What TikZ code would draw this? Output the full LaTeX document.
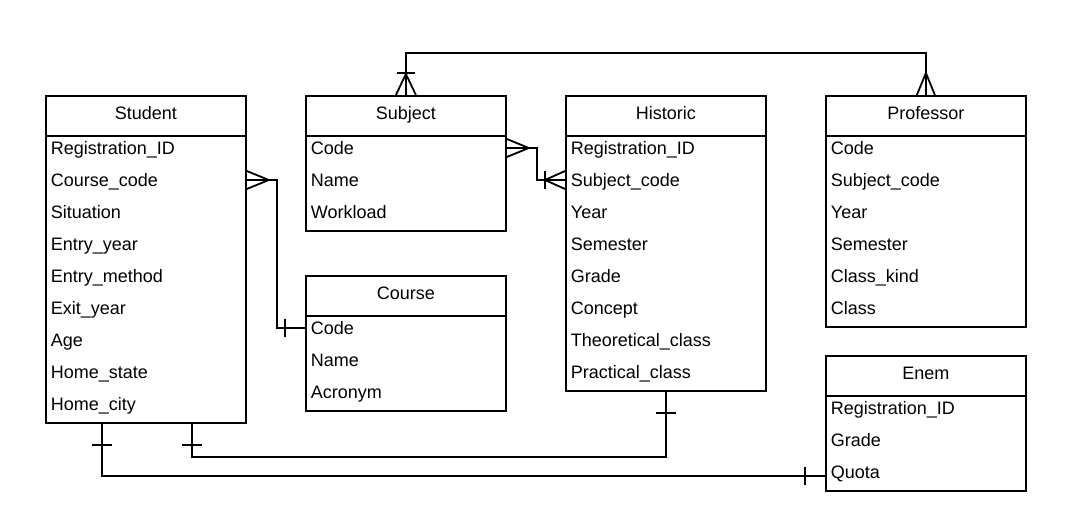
\documentclass[tikz,border=0pt]{standalone}
\usepackage{fontspec}
\setmainfont{Liberation Sans}
\usetikzlibrary{calc}

\begin{document}
\begin{tikzpicture}[x=1pt,y=-1pt,line width=1.8pt,
  head/.style={draw,minimum width=200pt,minimum height=40pt,inner sep=0pt,anchor=north west,text height=13pt,text depth=6pt,font=\fontsize{18}{21}\selectfont},
  body/.style={draw,minimum width=200pt,inner sep=0pt,anchor=north west},
  row/.style={anchor=west,inner sep=0pt,text height=13pt,text depth=0pt,font=\fontsize{18}{21}\selectfont}]
\useasboundingbox[fill=white] (0,0) rectangle (1065,530);

% Student
\node[head] (stu-h) at (45,95) {Student};
\node[body,minimum height=287pt] (stu) at (45,135) {};
\foreach \t [count=\i from 0] in {Registration\_ID,Course\_code,Situation,Entry\_year,Entry\_method,Exit\_year,Age,Home\_state,Home\_city}
  \node[row] (stu-\i) at (50,148+32*\i) {\t};

% Subject
\node[head] (sub-h) at (305,95) {Subject};
\node[body,minimum height=95pt] (sub) at (305,135) {};
\foreach \t [count=\i from 0] in {Code,Name,Workload}
  \node[row] (sub-\i) at (310,148+32*\i) {\t};

% Historic
\node[head] (his-h) at (565,95) {Historic};
\node[body,minimum height=255pt] (his) at (565,135) {};
\foreach \t [count=\i from 0] in {Registration\_ID,Subject\_code,Year,Semester,Grade,Concept,Theoretical\_class,Practical\_class}
  \node[row] (his-\i) at (570,148+32*\i) {\t};

% Professor
\node[head] (prof-h) at (825,95) {Professor};
\node[body,minimum height=191pt] (prof) at (825,135) {};
\foreach \t [count=\i from 0] in {Code,Subject\_code,Year,Semester,Class\_kind,Class}
  \node[row] (prof-\i) at (830,148+32*\i) {\t};

% Course
\node[head] (cou-h) at (305,275) {Course};
\node[body,minimum height=95pt] (cou) at (305,315) {};
\foreach \t [count=\i from 0] in {Code,Name,Acronym}
  \node[row] (cou-\i) at (310,328+32*\i) {\t};

% Enem
\node[head] (enem-h) at (825,355) {Enem};
\node[body,minimum height=95pt] (enem) at (825,395) {};
\foreach \t [count=\i from 0] in {Registration\_ID,Grade,Quota}
  \node[row] (enem-\i) at (830,408+32*\i) {\t};
\coordinate (quota) at ($(enem-2 -| enem.west)+(0,4)$);

% Subject -- Professor
\draw (sub-h.north) -- ++(0,-42) -| (prof-h.north);
\draw ($(sub-h.north)+(-10,0)$) -- ++(10,-21) -- ++(10,21);
\draw ($(sub-h.north)+(-9,-22)$) -- ++(18,0);
\draw ($(prof-h.north)+(-9,0)$) -- ++(9,-22) -- ++(9,22);

% Subject -- Historic
\draw (sub-0 -| sub.east) -- ++(30,0) |- (his-1 -| his.west);
\draw ($(sub-0 -| sub.east)+(0,-9)$) -- ++(22,9) -- ++(-22,9);
\draw ($(his-1 -| his.west)+(0,-9)$) -- ++(-20,9) -- ++(20,9);
\draw ($(his-1 -| his.west)+(-20,-9)$) -- ++(0,18);

% Student -- Course
\draw (stu-1 -| stu.east) -- ++(30,0) |- (cou-0 -| cou.west);
\draw ($(stu-1 -| stu.east)+(0,-9)$) -- ++(22,9) -- ++(-22,9);
\draw ($(cou-0 -| cou.west)+(-20,-9)$) -- ++(0,18);

% Student -- Historic
\draw ($(stu.south west)+(147,0)$) -- ++(0,33) -| (his.south);
\draw ($(stu.south west)+(137,21)$) -- ++(20,0);
\draw ($(his.south)+(-10,21)$) -- ++(20,0);

% Student -- Enem
\draw ($(stu.south west)+(57,0)$) |- (quota);
\draw ($(stu.south west)+(47,21)$) -- ++(20,0);
\draw ($(quota)+(-20,-9)$) -- ++(0,18);
\end{tikzpicture}
\end{document}
